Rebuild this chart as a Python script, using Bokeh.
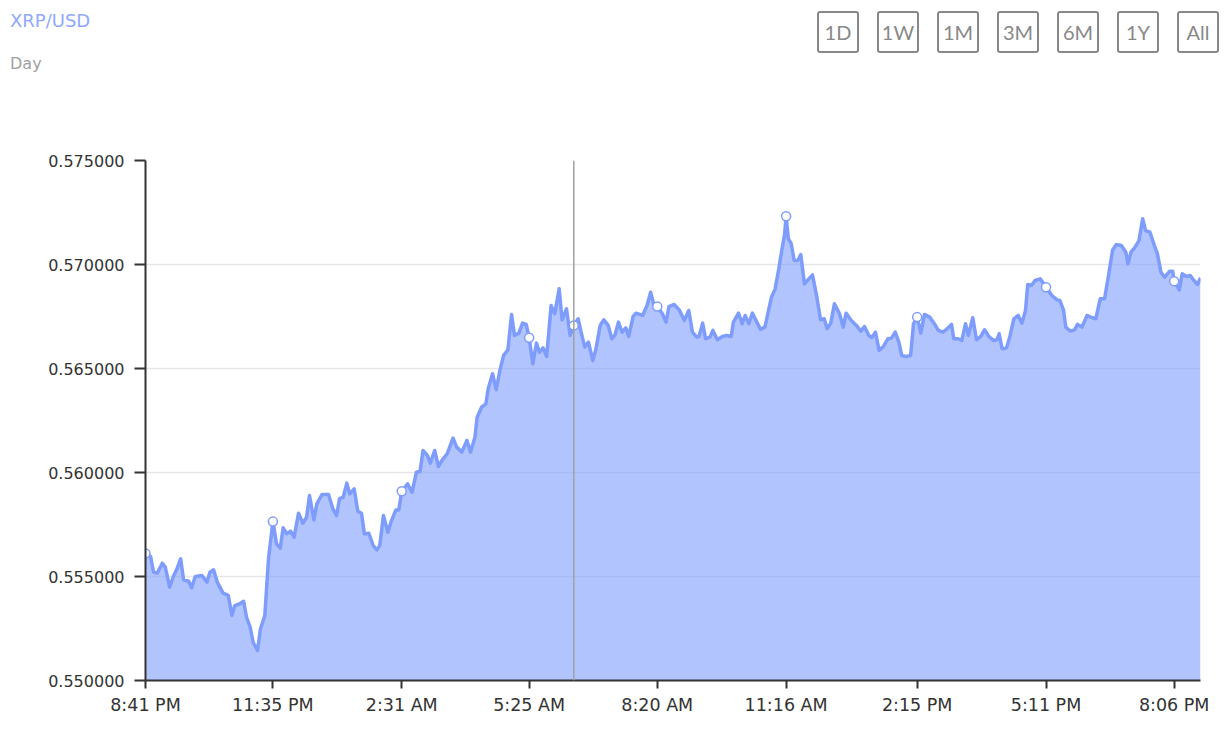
from bokeh.plotting import figure
from bokeh.layouts import column
from bokeh.models import (FixedTicker, Span, Range1d, ColumnDataSource, NumeralTickFormatter, Div)
from bokeh.embed import file_html
from bokeh.resources import INLINE

# minutes since 8:41 PM
minutes = [0, 7, 11, 16, 23, 27, 33, 38, 43, 48, 52, 59, 63, 68, 77, 84, 88, 93, 98, 106,
           113, 118, 122, 129, 134, 138, 143, 147, 153, 157, 163, 168, 174, 179, 184, 188,
           193, 198, 203, 209, 215, 220, 224, 230, 234, 241, 250, 256, 261, 265, 270, 275,
           279, 285, 290, 295, 299, 305, 311, 316, 320, 325, 331, 336, 342, 346, 350, 358,
           364, 370, 375, 379, 385, 389, 395, 400, 405, 412, 420, 425, 432, 439, 444, 450,
           453, 459, 465, 468, 474, 479, 484, 489, 495, 500, 504, 510, 515, 520, 524, 529,
           534, 538, 543, 548, 554, 559, 565, 569, 575, 580, 585, 591, 595, 600, 605, 611,
           615, 621, 626, 632, 637, 641, 646, 651, 656, 660, 666, 670, 679, 685, 690, 695,
           699, 706, 711, 715, 722, 729, 736, 742, 747, 753, 756, 761, 765, 771, 775, 781,
           788, 794, 800, 803, 810, 815, 819, 824, 829, 835, 840, 846, 850, 855, 860, 865,
           869, 873, 875, 878, 882, 886, 891, 895, 900, 906, 911, 917, 922, 927, 931, 936,
           941, 948, 953, 957, 964, 971, 977, 982, 988, 992, 997, 1002, 1008, 1014, 1019,
           1024, 1029, 1033, 1039, 1045, 1049, 1054, 1059, 1064, 1071, 1077, 1083, 1089,
           1095, 1101, 1104, 1110, 1115, 1120, 1124, 1130, 1135, 1141, 1146, 1152, 1158,
           1163, 1166, 1170, 1176, 1181, 1186, 1192, 1197, 1202, 1205, 1210, 1215, 1222,
           1227, 1230, 1238, 1245, 1249, 1254, 1257, 1263, 1269, 1273, 1279, 1286, 1291,
           1298, 1304, 1310, 1315, 1321, 1326, 1333, 1339, 1342, 1346, 1351, 1357, 1362,
           1366, 1372, 1378, 1382, 1387, 1392, 1399, 1403, 1405, 1412, 1416, 1422, 1427,
           1432, 1437, 1441]

prices = [0.55611, 0.55596, 0.55521, 0.55516, 0.55564, 0.55545, 0.55449, 0.55500, 0.55537,
          0.55585, 0.55484, 0.55477, 0.55446, 0.55500, 0.55505, 0.55473, 0.55521, 0.55532,
          0.55473, 0.55420, 0.55409, 0.55313, 0.55360, 0.55369, 0.55381, 0.55304, 0.55256,
          0.55184, 0.55144, 0.55248, 0.55313, 0.55585, 0.55764, 0.55657, 0.55636, 0.55734,
          0.55705, 0.55718, 0.55689, 0.55804, 0.55756, 0.55785, 0.55889, 0.55772, 0.55849,
          0.55894, 0.55894, 0.55825, 0.55793, 0.55874, 0.55881, 0.55949, 0.55897, 0.55921,
          0.55814, 0.55804, 0.55705, 0.55708, 0.55649, 0.55628, 0.55649, 0.55793, 0.55713,
          0.55769, 0.55820, 0.55820, 0.55910, 0.55946, 0.55905, 0.56001, 0.56005, 0.56106,
          0.56082, 0.56045, 0.56106, 0.56029, 0.56058, 0.56090, 0.56165, 0.56122, 0.56098,
          0.56154, 0.56098, 0.56170, 0.56266, 0.56314, 0.56330, 0.56402, 0.56475, 0.56398,
          0.56490, 0.56562, 0.56590, 0.56760, 0.56659, 0.56670, 0.56718, 0.56712, 0.56648,
          0.56523, 0.56622, 0.56578, 0.56599, 0.56558, 0.56803, 0.56763, 0.56883, 0.56734,
          0.56787, 0.56659, 0.56707, 0.56739, 0.56675, 0.56603, 0.56627, 0.56538, 0.56590,
          0.56707, 0.56734, 0.56707, 0.56643, 0.56659, 0.56723, 0.56675, 0.56695, 0.56654,
          0.56750, 0.56766, 0.56755, 0.56803, 0.56867, 0.56798, 0.56798, 0.56763, 0.56723,
          0.56798, 0.56808, 0.56782, 0.56731, 0.56779, 0.56675, 0.56651, 0.56654, 0.56718,
          0.56643, 0.56651, 0.56683, 0.56638, 0.56654, 0.56659, 0.56654, 0.56723, 0.56766,
          0.56715, 0.56755, 0.56715, 0.56766, 0.56723, 0.56688, 0.56699, 0.56763, 0.56843,
          0.56883, 0.56979, 0.57067, 0.57147, 0.57232, 0.57124, 0.57100, 0.57019, 0.57019,
          0.57048, 0.56907, 0.56931, 0.56950, 0.56843, 0.56734, 0.56739, 0.56691, 0.56718,
          0.56811, 0.56763, 0.56699, 0.56766, 0.56731, 0.56707, 0.56680, 0.56702, 0.56659,
          0.56648, 0.56675, 0.56587, 0.56606, 0.56643, 0.56646, 0.56675, 0.56627, 0.56562,
          0.56558, 0.56562, 0.56715, 0.56747, 0.56670, 0.56760, 0.56747, 0.56718, 0.56683,
          0.56675, 0.56691, 0.56712, 0.56643, 0.56643, 0.56635, 0.56715, 0.56659, 0.56744,
          0.56638, 0.56654, 0.56686, 0.56654, 0.56635, 0.56638, 0.56667, 0.56595, 0.56598,
          0.56659, 0.56739, 0.56755, 0.56718, 0.56779, 0.56904, 0.56899, 0.56923, 0.56931,
          0.56907, 0.56891, 0.56851, 0.56830, 0.56827, 0.56779, 0.56699, 0.56680, 0.56686,
          0.56712, 0.56699, 0.56755, 0.56747, 0.56739, 0.56835, 0.56835, 0.56939, 0.57070,
          0.57096, 0.57091, 0.57059, 0.57003, 0.57059, 0.57080, 0.57115, 0.57220, 0.57163,
          0.57155, 0.57091, 0.57054, 0.56963, 0.56939, 0.56968, 0.56968, 0.56920, 0.56878,
          0.56955, 0.56942, 0.56947, 0.56923, 0.56904, 0.56936]

tick_minutes = [0, 174, 350, 524, 699, 875, 1054, 1230, 1405]
tick_labels = ["8:41 PM", "11:35 PM", "2:31 AM", "5:25 AM", "8:20 AM",
               "11:16 AM", "2:15 PM", "5:11 PM", "8:06 PM"]
y_ticks = [0.550, 0.555, 0.560, 0.565, 0.570, 0.575]
hover_minute = 585
range_buttons = ["1D", "1W", "1M", "3M", "6M", "1Y", "All"]
title_text = "XRP/USD"
subtitle_text = "Day"

LINE = "#7e9cfb"
FONT = "DejaVu Sans"
W = 1220

# ---------- header (HTML) ----------
HH = 100
parts = [
    f'<div style="position:relative;width:{W}px;height:{HH}px;margin:0;padding:0;">',
    f'<span style="position:absolute;left:10px;top:12px;font-family:\'{FONT}\';'
    f'font-size:18px;line-height:18px;color:#8fa8ff;white-space:nowrap;">{title_text}</span>',
    f'<span style="position:absolute;left:10px;top:56px;font-family:\'{FONT}\';'
    f'font-size:16px;line-height:16px;color:#a0a0a0;white-space:nowrap;">{subtitle_text}</span>',
]
for i, b in enumerate(range_buttons):
    left = 817 + 60 * i
    parts.append(
        f'<div style="position:absolute;left:{left}px;top:11px;width:42px;height:42px;'
        f'box-sizing:border-box;border:2px solid #888888;border-radius:3px;'
        f'display:flex;align-items:center;justify-content:center;'
        f'font-family:Lato;font-size:20px;color:#888888;">{b}</div>')
parts.append('</div>')
hdr = Div(text="".join(parts), width=W, height=HH, margin=(0, 0, 0, 0))

# ---------- chart ----------
p = figure(width=W, height=630, output_backend="svg", toolbar_location=None,
           x_range=Range1d(0, 1441), y_range=Range1d(0.55, 0.575),
           min_border_left=145, min_border_right=20, min_border_top=60,
           min_border_bottom=50, margin=(0, 0, 0, 0))
p.outline_line_color = None

src = ColumnDataSource(dict(x=minutes, y=prices))
p.varea(x="x", y1=0.55, y2="y", source=src, fill_color=LINE, fill_alpha=0.6)
p.line(x="x", y="y", source=src, line_color=LINE, line_width=3.5, line_join="round")

lookup = dict(zip(minutes, prices))
mk_x = tick_minutes + [hover_minute]
mk_y = [lookup[m] for m in mk_x]
p.scatter(x=mk_x, y=mk_y, size=9, fill_color="white", line_color=LINE, line_width=1.5)

p.add_layout(Span(location=hover_minute, dimension="height", line_color="#a0a0a0",
                  line_width=1.5))

p.xaxis.ticker = FixedTicker(ticks=tick_minutes)
p.xaxis.major_label_overrides = {m: l for m, l in zip(tick_minutes, tick_labels)}
p.yaxis.ticker = FixedTicker(ticks=y_ticks)
p.yaxis.formatter = NumeralTickFormatter(format="0.000000")
for ax in (p.xaxis, p.yaxis):
    ax.axis_line_color = "#333333"
    ax.axis_line_width = 2
    ax.major_tick_line_color = "#333333"
    ax.major_tick_line_width = 2
    ax.major_tick_in = 0
    ax.minor_tick_line_color = None
    ax.major_label_text_font = FONT
    ax.major_label_text_color = "#333333"
p.xaxis.major_label_text_font_size = "17.5px"
p.yaxis.major_label_text_font_size = "16px"
p.xaxis.major_tick_out = 8
p.yaxis.major_tick_out = 11
p.xaxis.major_label_standoff = 6
p.yaxis.major_label_standoff = 10

p.xgrid.grid_line_color = None
p.ygrid.grid_line_color = "#e6e6e6"
p.ygrid.grid_line_width = 1.5

layout = column(hdr, p, spacing=0)
open("out.html", "w").write(file_html(layout, INLINE))
